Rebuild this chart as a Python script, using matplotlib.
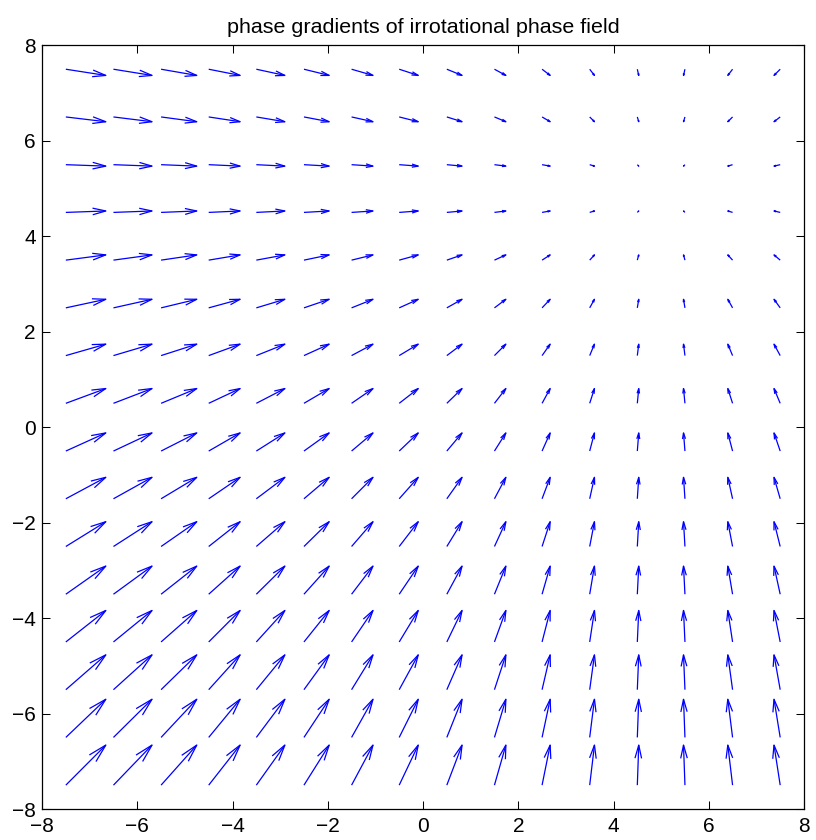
import numpy as np
import matplotlib
matplotlib.use("Agg")
import matplotlib.pyplot as plt
from matplotlib.collections import LineCollection

# grid positions (arrow tails)
x_positions = [-7.5, -6.5, -5.5, -4.5, -3.5, -2.5, -1.5, -0.5,
               0.5, 1.5, 2.5, 3.5, 4.5, 5.5, 6.5, 7.5]
y_positions = [-7.5, -6.5, -5.5, -4.5, -3.5, -2.5, -1.5, -0.5,
               0.5, 1.5, 2.5, 3.5, 4.5, 5.5, 6.5, 7.5]

# displayed x-component of arrows (same along each column), per x position
u_by_column = [0.84, 0.81, 0.75, 0.66, 0.60, 0.53, 0.45, 0.40,
               0.32, 0.24, 0.17, 0.10, 0.03, -0.03, -0.10, -0.13]
# displayed y-component of arrows (same along each row), per y position
v_by_row = [0.84, 0.80, 0.73, 0.66, 0.59, 0.52, 0.45, 0.38,
            0.31, 0.24, 0.18, 0.11, 0.03, -0.03, -0.10, -0.13]

title_text = "phase gradients of irrotational phase field"
ticks = [-8, -6, -4, -2, 0, 2, 4, 6, 8]

plt.rcParams['font.family'] = ['Liberation Sans', 'DejaVu Sans']
plt.rcParams['font.size'] = 10

X, Y = np.meshgrid(np.array(x_positions), np.array(y_positions))
U = np.tile(np.array(u_by_column), (len(y_positions), 1))
V = np.tile(np.array(v_by_row)[:, None], (1, len(x_positions)))

fig = plt.figure(figsize=(5.44, 5.6), dpi=150)
ax = fig.add_axes([0.0515, 0.0369, 0.9338, 0.9091])

alpha, beta = 0.33, 0.25
x, y, u, v = X.ravel(), Y.ravel(), U.ravel(), V.ravel()
tipx, tipy = x + u, y + v
segs = []
for i in range(len(x)):
    segs.append([(x[i], y[i]), (tipx[i], tipy[i])])
    segs.append([(tipx[i] - alpha * (u[i] + beta * v[i]), tipy[i] - alpha * (v[i] - beta * u[i])),
                 (tipx[i], tipy[i]),
                 (tipx[i] - alpha * (u[i] - beta * v[i]), tipy[i] - alpha * (v[i] + beta * u[i]))])
lc = LineCollection(segs, colors='#0000ff', linewidths=0.6)
ax.add_collection(lc)

ax.set_xlim(-8, 8)
ax.set_ylim(-8, 8)
ax.set_xticks(ticks)
ax.set_yticks(ticks)
ax.tick_params(direction='in', length=3.8, width=0.5, top=True, right=True,
               labelsize=10, colors='black')
ax.tick_params(axis='x', pad=4)
ax.tick_params(axis='y', pad=3)
for s in ax.spines.values():
    s.set_linewidth(0.6)
ax.set_title(title_text, fontsize=10.3, pad=6)

fig.savefig("out.png", dpi=150)
